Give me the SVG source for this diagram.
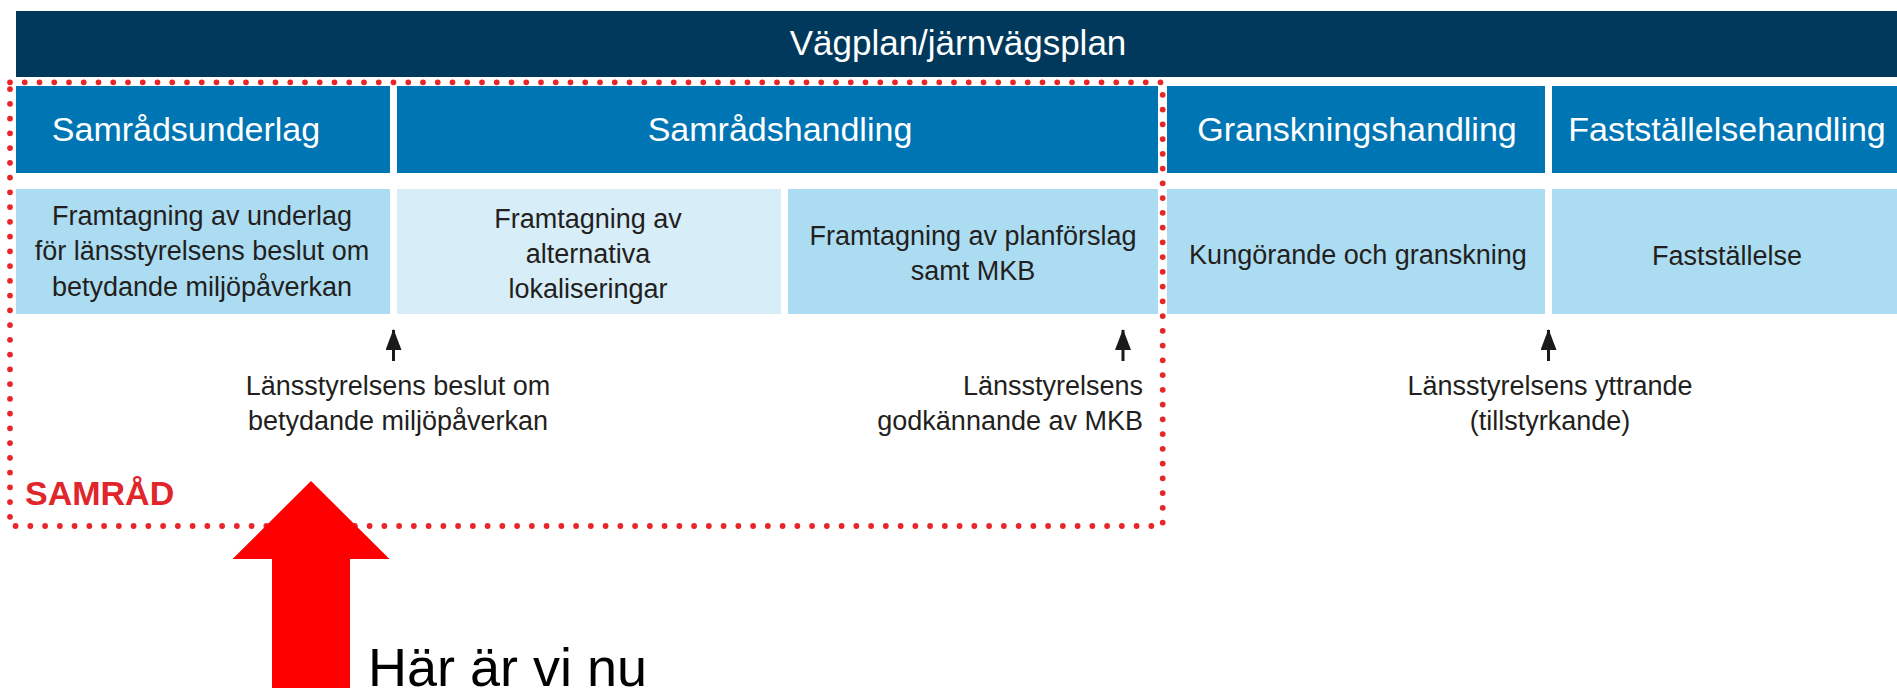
<svg xmlns="http://www.w3.org/2000/svg" width="1897" height="688" viewBox="0 0 1897 688">
  <defs>
    <style>
      .title { font-family: "Liberation Sans", Arial, sans-serif; font-size: 35px; fill: #ffffff; text-anchor: middle; }
      .hdr { font-family: "Liberation Sans", Arial, sans-serif; font-size: 34px; fill: #ffffff; text-anchor: middle; }
      .body { font-family: "Liberation Sans", Arial, sans-serif; font-size: 27px; fill: #231f20; text-anchor: middle; }
      .note { font-family: "Liberation Sans", Arial, sans-serif; font-size: 27px; fill: #231f20; }
      .dark { fill: #00395c; }
      .blue { fill: #0075b3; }
      .light { fill: #acdcf2; }
      .lighter { fill: #d7edf8; }
      .dots { fill: none; stroke: #e8262a; stroke-width: 5.8; stroke-linecap: round; stroke-dasharray: 0 14.75; }
      .conn { stroke: #1a1a1a; stroke-width: 3; fill: none; }
    </style>
    <marker id="ahup" viewBox="0 0 16 21" refX="8" refY="1" markerWidth="16" markerHeight="21" markerUnits="userSpaceOnUse" orient="0">
      <path d="M8 0 L16 21 L0 21 Z" fill="#1a1a1a"/>
    </marker>
  </defs>

  <rect width="1897" height="688" fill="#ffffff"/>

  <g id="vagplan">
    <rect class="dark" x="16" y="11" width="1881" height="66"/>
    <text class="title" x="958" y="55">Vägplan/järnvägsplan</text>
  </g>

  <g id="samradsunderlag">
    <rect class="blue" x="16" y="86" width="374" height="87"/>
    <text class="hdr" x="186" y="141">Samrådsunderlag</text>
  </g>
  <g id="samradshandling">
    <rect class="blue" x="397" y="86" width="761" height="87"/>
    <text class="hdr" x="780" y="141">Samrådshandling</text>
  </g>
  <g id="granskningshandling">
    <rect class="blue" x="1167" y="86" width="378" height="87"/>
    <text class="hdr" x="1357" y="141">Granskningshandling</text>
  </g>
  <g id="faststallelsehandling">
    <rect class="blue" x="1552" y="86" width="345" height="87"/>
    <text class="hdr" x="1727" y="141">Fastställelsehandling</text>
  </g>

  <g id="framtagning-underlag">
    <rect class="light" x="16" y="189" width="374" height="125"/>
    <text class="body" x="202" y="225">Framtagning av underlag</text>
    <text class="body" x="202" y="260">för länsstyrelsens beslut om</text>
    <text class="body" x="202" y="296">betydande miljöpåverkan</text>
  </g>
  <g id="framtagning-alternativa">
    <rect class="lighter" x="397" y="189" width="384" height="125"/>
    <text class="body" x="588" y="228">Framtagning av</text>
    <text class="body" x="588" y="263">alternativa</text>
    <text class="body" x="588" y="298">lokaliseringar</text>
  </g>
  <g id="framtagning-planforslag">
    <rect class="light" x="788" y="189" width="370" height="125"/>
    <text class="body" x="973" y="245">Framtagning av planförslag</text>
    <text class="body" x="973" y="280">samt MKB</text>
  </g>
  <g id="kungorande">
    <rect class="light" x="1167" y="189" width="378" height="125"/>
    <text class="body" x="1358" y="264">Kungörande och granskning</text>
  </g>
  <g id="faststallelse">
    <rect class="light" x="1552" y="189" width="345" height="125"/>
    <text class="body" x="1727" y="265">Fastställelse</text>
  </g>

  <g id="connectors">
    <line class="conn" x1="393.5" y1="361" x2="393.5" y2="330" marker-end="url(#ahup)"/>
    <line class="conn" x1="1123" y1="361" x2="1123" y2="330" marker-end="url(#ahup)"/>
    <line class="conn" x1="1548.5" y1="361" x2="1548.5" y2="330" marker-end="url(#ahup)"/>
  </g>

  <g id="note-beslut">
    <text class="note" x="398" y="395" text-anchor="middle">Länsstyrelsens beslut om</text>
    <text class="note" x="398" y="430" text-anchor="middle">betydande miljöpåverkan</text>
  </g>
  <g id="note-godkannande">
    <text class="note" x="1143" y="395" text-anchor="end">Länsstyrelsens</text>
    <text class="note" x="1143" y="430" text-anchor="end">godkännande av MKB</text>
  </g>
  <g id="note-yttrande">
    <text class="note" x="1550" y="395" text-anchor="middle">Länsstyrelsens yttrande</text>
    <text class="note" x="1550" y="430" text-anchor="middle">(tillstyrkande)</text>
  </g>

  <g id="samrad">
    <path class="dots" d="M10 82.3 H1162.7 V526 H10 Z"/>
    <text x="25" y="505" font-family="'Liberation Sans', Arial, sans-serif" font-weight="bold" font-size="34" fill="#e0262b">SAMRÅD</text>
  </g>

  <g id="har-ar-vi-nu">
    <polygon points="311,481 389.5,559 350,559 350,700 272,700 272,559 232.5,559" fill="#ff0000"/>
    <text x="368" y="686" font-family="'Liberation Sans', Arial, sans-serif" font-size="54" fill="#000000">Här är vi nu</text>
  </g>
</svg>
